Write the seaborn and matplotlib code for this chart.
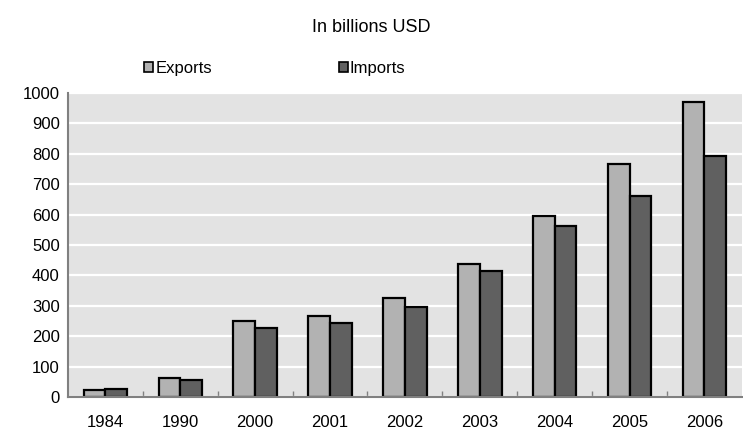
import matplotlib.pyplot as plt
import numpy as np
import pandas as pd
import seaborn as sns

years = ['1984', '1990', '2000', '2001', '2002', '2003', '2004', '2005', '2006']
exports = [25, 62, 249, 267, 325, 439, 595, 767, 970]
imports = [27, 55, 226, 244, 295, 413, 563, 661, 793]
series = ['Exports', 'Imports']
colors = ['#b2b2b2', '#606060']


def main():
    df = pd.DataFrame({
        'year': years * 2,
        'value': exports + imports,
        'series': [series[0]] * len(years) + [series[1]] * len(years),
    })

    sns.set_theme(style='darkgrid', rc={
        'axes.facecolor': '#e3e3e3',
        'grid.color': 'white',
        'grid.linewidth': 1.6,
        'text.color': 'black',
    })
    plt.rcParams['font.family'] = ['Liberation Sans', 'DejaVu Sans']

    fig = plt.figure(figsize=(7.43, 4.34), dpi=100)
    ax = fig.add_axes([0.0915, 0.085, 0.907, 0.701])
    sns.barplot(data=df, x='year', y='value', hue='series', palette=colors,
                width=0.58, edgecolor='black', linewidth=1.6, ax=ax)

    ax.set_ylim(0, 1000)
    ax.set_yticks(np.arange(0, 1001, 100))
    ax.set_xlim(-0.5, len(years) - 0.5)
    ax.set_xlabel('')
    ax.set_ylabel('')
    ax.grid(axis='x', visible=False)
    ax.tick_params(axis='both', labelsize=12, labelcolor='black', length=0, pad=6)
    ax.tick_params(axis='x', pad=13)
    ax.set_xticks(np.arange(0.5, len(years) - 0.5), minor=True)
    ax.tick_params(axis='x', which='minor', direction='in', length=4,
                   width=1, color='#808080', bottom=True)
    for side in ['top', 'right']:
        ax.spines[side].set_visible(False)
    for side in ['left', 'bottom']:
        ax.spines[side].set_visible(True)
        ax.spines[side].set_color('#808080')
        ax.spines[side].set_linewidth(1.5)

    ax.get_legend().remove()
    handles = [plt.Rectangle((0, 0), 1, 1, facecolor=c, edgecolor='black', linewidth=1.2)
               for c in colors]
    fig.legend(handles, series, loc='center', bbox_to_anchor=(0.37, 0.843), ncol=2,
               frameon=False, fontsize=12, handlelength=0.55, handleheight=0.55,
               handletextpad=0.12, columnspacing=7.6)

    fig.text(0.5, 0.937, 'In billions USD', ha='center', va='center', fontsize=13,
             color='black')

    fig.savefig('out.png', dpi=100)


if __name__ == '__main__':
    main()
